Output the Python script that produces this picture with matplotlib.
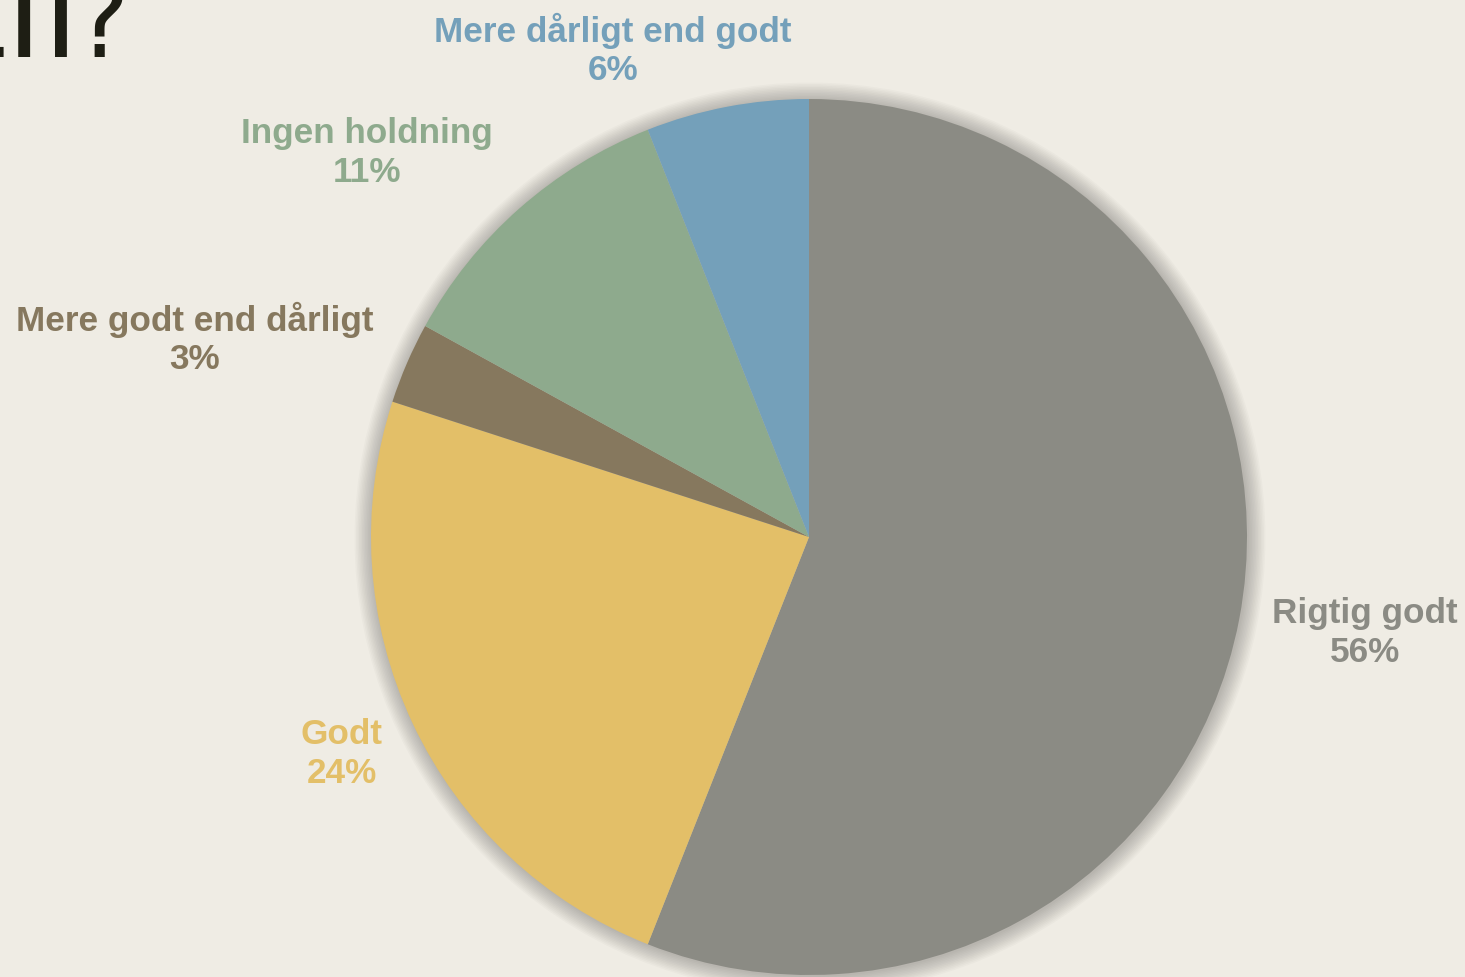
import matplotlib
matplotlib.use("Agg")
import matplotlib.pyplot as plt
from matplotlib.patches import Circle

# Data
categories = ["Rigtig godt", "Godt", "Mere godt end dårligt", "Ingen holdning", "Mere dårligt end godt"]
values = [56, 24, 3, 11, 6]
colors = ["#8B8B84", "#E3BF68", "#86785E", "#8EAA8D", "#74A0BA"]
label_colors = ["#8B8B84", "#E3BF68", "#86785E", "#8EAA8D", "#74A0BA"]
# label centre positions in pixels (x, y from top)
label_pos = [(1365, 633), (342, 754), (195, 339), (367, 153), (613, 50)]

W, H = 1465, 977
bg = "#EFECE4"
fig = plt.figure(figsize=(W / 100, H / 100), dpi=100, facecolor=bg)
ax = fig.add_axes([0, 0, 1, 1])
ax.set_facecolor(bg)

cx, cy, r = 809, H - 537, 438

# soft shadow
for i in range(12):
    ax.add_patch(Circle((cx + 1, cy - 1), r + 1 + i * 1.5, color="black",
                        alpha=0.02, lw=0, zorder=0))

wedges, _ = ax.pie(values, startangle=90, counterclock=False, colors=colors,
                   center=(cx, cy), radius=r, wedgeprops=dict(linewidth=0))
for w in wedges:
    w.set_zorder(2)

for cat, v, c, (lx, ly) in zip(categories, values, label_colors, label_pos):
    ax.text(lx, H - ly, f"{cat}\n{v}%", ha="center", va="center", color=c,
            fontsize=25.3, fontweight="bold", family="Liberation Sans",
            linespacing=1.2, zorder=5)

# cropped title fragment
title_font = ["Liberation Sans Narrow", "DejaVu Sans"]
ax.text(80, H - 57, "til", ha="right", va="baseline", fontsize=95,
        color="#1E1E14", family=title_font, zorder=5)
ax.text(75, H - 57, "?", ha="left", va="baseline", fontsize=74,
        color="#1E1E14", family=title_font, zorder=5)

ax.set_xlim(0, W)
ax.set_ylim(0, H)
ax.set_aspect("equal")
ax.axis("off")
fig.savefig("out.png", dpi=100, facecolor=bg)
